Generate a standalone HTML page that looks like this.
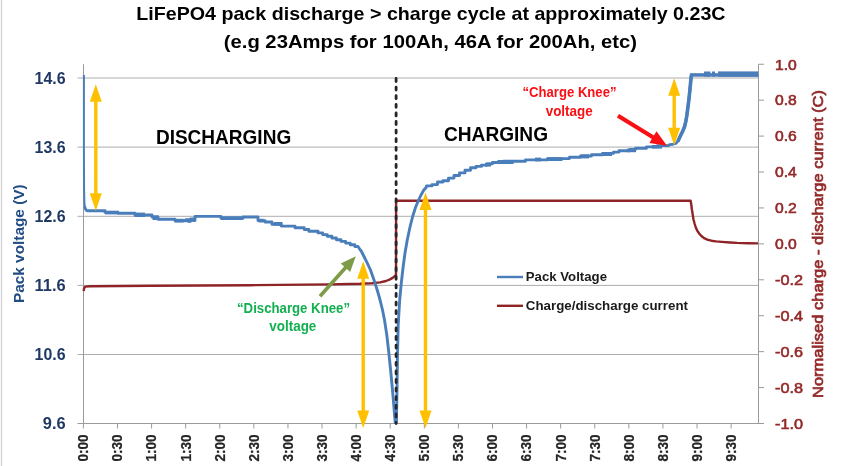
<!DOCTYPE html>
<html lang="en"><head><meta charset="utf-8"><title>LiFePO4 pack discharge &gt; charge cycle</title>
<style>html,body{margin:0;padding:0;background:#fff;}body{width:850px;height:466px;overflow:hidden;font-family:"Liberation Sans",sans-serif;}svg{display:block;}</style>
</head><body>
<svg width="850" height="466" viewBox="0 0 850 466" font-family="Liberation Sans, sans-serif">
<line x1="1.5" y1="0" x2="1.5" y2="466" stroke="#d2d2d2" stroke-width="1.3"/>
<line x1="77.5" y1="78.0" x2="758.5" y2="78.0" stroke="#adadad" stroke-width="1"/>
<line x1="77.5" y1="147.1" x2="758.5" y2="147.1" stroke="#adadad" stroke-width="1"/>
<line x1="77.5" y1="216.3" x2="758.5" y2="216.3" stroke="#adadad" stroke-width="1"/>
<line x1="77.5" y1="285.4" x2="758.5" y2="285.4" stroke="#adadad" stroke-width="1"/>
<line x1="77.5" y1="354.5" x2="758.5" y2="354.5" stroke="#adadad" stroke-width="1"/>
<line x1="83.5" y1="64.25" x2="83.5" y2="423.5" stroke="#9a9a9a" stroke-width="1"/>
<line x1="758.5" y1="64.25" x2="758.5" y2="423.5" stroke="#9a9a9a" stroke-width="1"/>
<line x1="77.5" y1="423.5" x2="764.0" y2="423.5" stroke="#9a9a9a" stroke-width="1"/>
<line x1="758.5" y1="64.25" x2="764.0" y2="64.25" stroke="#9a9a9a" stroke-width="1"/>
<line x1="758.5" y1="100.17" x2="764.0" y2="100.17" stroke="#9a9a9a" stroke-width="1"/>
<line x1="758.5" y1="136.10" x2="764.0" y2="136.10" stroke="#9a9a9a" stroke-width="1"/>
<line x1="758.5" y1="172.03" x2="764.0" y2="172.03" stroke="#9a9a9a" stroke-width="1"/>
<line x1="758.5" y1="207.95" x2="764.0" y2="207.95" stroke="#9a9a9a" stroke-width="1"/>
<line x1="758.5" y1="243.88" x2="764.0" y2="243.88" stroke="#9a9a9a" stroke-width="1"/>
<line x1="758.5" y1="279.80" x2="764.0" y2="279.80" stroke="#9a9a9a" stroke-width="1"/>
<line x1="758.5" y1="315.73" x2="764.0" y2="315.73" stroke="#9a9a9a" stroke-width="1"/>
<line x1="758.5" y1="351.65" x2="764.0" y2="351.65" stroke="#9a9a9a" stroke-width="1"/>
<line x1="758.5" y1="387.57" x2="764.0" y2="387.57" stroke="#9a9a9a" stroke-width="1"/>
<line x1="758.5" y1="423.50" x2="764.0" y2="423.50" stroke="#9a9a9a" stroke-width="1"/>
<line x1="83.40" y1="423.5" x2="83.40" y2="428.5" stroke="#9a9a9a" stroke-width="1"/>
<line x1="117.49" y1="423.5" x2="117.49" y2="428.5" stroke="#9a9a9a" stroke-width="1"/>
<line x1="151.58" y1="423.5" x2="151.58" y2="428.5" stroke="#9a9a9a" stroke-width="1"/>
<line x1="185.67" y1="423.5" x2="185.67" y2="428.5" stroke="#9a9a9a" stroke-width="1"/>
<line x1="219.76" y1="423.5" x2="219.76" y2="428.5" stroke="#9a9a9a" stroke-width="1"/>
<line x1="253.85" y1="423.5" x2="253.85" y2="428.5" stroke="#9a9a9a" stroke-width="1"/>
<line x1="287.94" y1="423.5" x2="287.94" y2="428.5" stroke="#9a9a9a" stroke-width="1"/>
<line x1="322.03" y1="423.5" x2="322.03" y2="428.5" stroke="#9a9a9a" stroke-width="1"/>
<line x1="356.12" y1="423.5" x2="356.12" y2="428.5" stroke="#9a9a9a" stroke-width="1"/>
<line x1="390.21" y1="423.5" x2="390.21" y2="428.5" stroke="#9a9a9a" stroke-width="1"/>
<line x1="424.30" y1="423.5" x2="424.30" y2="428.5" stroke="#9a9a9a" stroke-width="1"/>
<line x1="458.39" y1="423.5" x2="458.39" y2="428.5" stroke="#9a9a9a" stroke-width="1"/>
<line x1="492.48" y1="423.5" x2="492.48" y2="428.5" stroke="#9a9a9a" stroke-width="1"/>
<line x1="526.57" y1="423.5" x2="526.57" y2="428.5" stroke="#9a9a9a" stroke-width="1"/>
<line x1="560.66" y1="423.5" x2="560.66" y2="428.5" stroke="#9a9a9a" stroke-width="1"/>
<line x1="594.75" y1="423.5" x2="594.75" y2="428.5" stroke="#9a9a9a" stroke-width="1"/>
<line x1="628.84" y1="423.5" x2="628.84" y2="428.5" stroke="#9a9a9a" stroke-width="1"/>
<line x1="662.93" y1="423.5" x2="662.93" y2="428.5" stroke="#9a9a9a" stroke-width="1"/>
<line x1="697.02" y1="423.5" x2="697.02" y2="428.5" stroke="#9a9a9a" stroke-width="1"/>
<line x1="731.11" y1="423.5" x2="731.11" y2="428.5" stroke="#9a9a9a" stroke-width="1"/>
<polyline fill="none" stroke="#8f2426" stroke-width="2.4" stroke-linejoin="round" points="83.6,291 84.2,288 85.2,286.6 90,286.3 150,285.8 250,285.2 330,284.4 360,283.8 372,283.2 380,282.4 386,281 390,279.4 393,277.6 395,275.8 396,274.5 396.1,200.7 690.6,200.7 691.2,204 691.9,209.5 693.5,219.5 694.7,224 696,228 697.7,231.4 699.5,234 702,236.6 704.6,238.4 708,239.8 711.5,240.7 716,241.4 721.8,241.9 730,242.5 737,242.9 748,243.2 758,243.4"/>
<polyline fill="none" stroke="#4a7ebb" stroke-width="2" points="83.9,75 83.9,150 84.1,190 84.4,203 85,208"/>
<polyline fill="none" stroke="#4a7ebb" stroke-width="2.9" stroke-linejoin="round" points="84.80,206.50 85.10,208.30 86.30,210.30 88.00,210.80 105.00,210.80 105.00,212.40 118.00,212.40 118.00,213.30 135.00,213.30 135.00,215.00 152.00,215.00 152.00,217.00 158.00,217.00 158.00,219.20 175.00,219.20 175.00,220.80 186.00,220.80 186.00,219.60 188.00,219.60 188.00,221.20 190.50,221.20 190.50,219.00 193.00,219.00 193.00,220.50 195.00,220.50 195.00,216.40 221.00,216.40 221.00,218.30 243.00,218.30 243.00,217.00 258.00,217.00 258.00,220.60 265.00,220.60 265.00,222.00 272.00,222.00 272.00,224.00 272.00,224.40 276.60,224.40 276.60,224.40 281.20,224.40 281.20,226.10 285.80,226.10 285.80,226.10 290.40,226.10 290.40,226.10 295.00,226.10 295.00,227.80 299.60,227.80 299.60,227.80 304.20,227.80 304.20,229.50 308.80,229.50 308.80,231.20 313.40,231.20 313.40,231.20 318.00,231.20 318.00,232.90 322.60,232.90 322.60,234.60 327.20,234.60 327.20,236.30 331.80,236.30 331.80,238.00 336.40,238.00 336.40,239.70 341.00,239.70 341.00,241.40 345.60,241.40 345.60,243.10 350.20,243.10 350.20,244.80 354.80,244.80 354.80,246.50 358.00,246.50 359.50,248.80 361.20,251.00 364.00,256.50 366.80,262.20 370.50,270.00 374.60,281.70 377.50,291.00 380.20,300.50 382.50,310.00 384.50,320.00 386.80,335.00 388.75,352.00 390.60,370.00 392.50,390.00 394.00,408.00 395.20,422.50 396.40,422.50 397.00,390.00 397.50,355.00 398.20,325.00 399.70,300.00 401.30,283.00 403.00,268.00 405.00,253.00 407.30,239.80 410.00,227.00 412.80,216.00 415.50,207.50 418.40,200.50 421.00,195.00 424.00,189.80 426.20,187.40 426.50,185.90 432.00,185.90 432.00,184.60 437.50,184.60 437.50,182.00 443.00,182.00 443.00,180.70 448.50,180.70 448.50,178.10 454.00,178.10 454.00,175.50 459.50,175.50 459.50,172.90 465.00,172.90 465.00,170.30 470.50,170.30 470.50,167.70 476.00,167.70 476.00,166.40 481.50,166.40 481.50,165.10 487.00,165.10 487.00,163.80 492.50,163.80 492.50,162.50 498.00,162.50 498.00,162.50 503.50,162.50 503.50,161.20 509.00,161.20 509.00,161.20 514.50,161.20 514.50,161.20 520.00,161.20 520.00,161.20 525.50,161.20 525.50,159.90 531.00,159.90 531.00,159.90 536.50,159.90 536.50,159.90 542.00,159.90 542.00,159.90 547.50,159.90 547.50,158.60 553.00,158.60 553.00,158.60 558.50,158.60 558.50,158.60 564.00,158.60 564.00,158.60 569.50,158.60 569.50,157.30 575.00,157.30 575.00,157.30 580.50,157.30 580.50,156.00 586.00,156.00 586.00,156.00 591.50,156.00 591.50,154.70 597.00,154.70 597.00,154.70 602.50,154.70 602.50,153.40 608.00,153.40 608.00,153.40 613.50,153.40 613.50,152.10 619.00,152.10 619.00,150.80 624.50,150.80 624.50,150.80 630.00,150.80 630.00,149.50 635.50,149.50 635.50,148.20 641.00,148.20 641.00,148.20 646.50,148.20 646.50,146.90 652.00,146.90 652.00,146.90 657.50,146.90 657.50,145.60 663.00,145.60 663.00,145.60 668.00,145.60 670.00,144.60 673.00,144.20 676.00,143.40 677.80,141.40 679.30,138.30 680.80,135.00 682.80,131.00 684.70,126.20 685.80,121.50 686.80,115.80 687.90,107.50 689.00,98.60 689.90,90.00 690.70,81.50 691.20,76.50 691.60,75.00"/>
<polyline fill="none" stroke="#4a7ebb" stroke-width="3.6" stroke-linejoin="miter" points="677.80,141.40 679.30,138.30 680.80,135.00 682.80,131.00 684.70,126.20 685.80,121.50 686.80,115.80 687.90,107.50 689.00,98.60 689.90,90.00 690.70,81.50 691.20,76.50 691.60,75.00"/>
<rect x="105" y="210.7" width="13.7" height="3.7" fill="#4a7ebb"/>
<rect x="134.5" y="212.6" width="10.5" height="4.4" fill="#4a7ebb"/>
<rect x="152.5" y="215.5" width="6.2" height="4.5" fill="#4a7ebb"/>
<rect x="174.5" y="218.8" width="9.2" height="3.7" fill="#4a7ebb"/>
<rect x="188.7" y="218.8" width="2.5" height="3.7" fill="#4a7ebb"/>
<rect x="221.2" y="216.3" width="21.3" height="3.7" fill="#4a7ebb"/>
<rect x="258.7" y="218.8" width="5.0" height="3.7" fill="#4a7ebb"/>
<rect x="273.7" y="222" width="8.8" height="3.6" fill="#4a7ebb"/>
<rect x="485" y="163" width="6.0" height="3.6" fill="#4a7ebb"/>
<rect x="497.5" y="160" width="16.2" height="4.0" fill="#4a7ebb"/>
<rect x="535" y="157.6" width="6.0" height="3.8" fill="#4a7ebb"/>
<rect x="547.5" y="157.2" width="15.0" height="3.8" fill="#4a7ebb"/>
<rect x="581" y="154.4" width="8.0" height="4.0" fill="#4a7ebb"/>
<rect x="602.5" y="152" width="9.5" height="4.0" fill="#4a7ebb"/>
<rect x="627" y="148.6" width="9.0" height="3.6" fill="#4a7ebb"/>
<rect x="652" y="145" width="10.0" height="3.6" fill="#4a7ebb"/>
<rect x="689.9" y="73.2" width="68.3" height="3.5" fill="#4a7ebb"/>
<rect x="704" y="71.5" width="6.5" height="5.2" fill="#4a7ebb"/>
<rect x="712" y="71.5" width="3" height="5.2" fill="#4a7ebb"/>
<rect x="718" y="71.4" width="40.2" height="5.4" fill="#4a7ebb"/>
<line x1="396.1" y1="78.5" x2="396.1" y2="423.5" stroke="#262626" stroke-width="2.8" stroke-dasharray="3 5.6" stroke-linecap="round"/>
<line x1="95.8" y1="100.7" x2="95.8" y2="194.3" stroke="#ffc000" stroke-width="3.4"/>
<polygon fill="#ffc000" points="95.8,84.2 89.8,101.7 101.8,101.7"/>
<polygon fill="#ffc000" points="95.8,210.8 89.8,193.3 101.8,193.3"/>
<line x1="363.2" y1="277.7" x2="363.2" y2="411.5" stroke="#ffc000" stroke-width="3.4"/>
<polygon fill="#ffc000" points="363.2,261.2 357.2,278.7 369.2,278.7"/>
<polygon fill="#ffc000" points="363.2,428 357.2,410.5 369.2,410.5"/>
<line x1="425.5" y1="209.0" x2="425.5" y2="411.5" stroke="#ffc000" stroke-width="3.4"/>
<polygon fill="#ffc000" points="425.5,192.5 419.5,210.0 431.5,210.0"/>
<polygon fill="#ffc000" points="425.5,428 419.5,410.5 431.5,410.5"/>
<line x1="674.2" y1="94.7" x2="674.2" y2="128.7" stroke="#ffc000" stroke-width="3.4"/>
<polygon fill="#ffc000" points="674.2,78.2 668.2,95.7 680.2,95.7"/>
<polygon fill="#ffc000" points="674.2,145.2 668.2,127.69999999999999 680.2,127.69999999999999"/>
<line x1="320.00" y1="296.30" x2="346.14" y2="267.02" stroke="#7e9b48" stroke-width="3.6"/>
<polygon fill="#7e9b48" points="355.80,256.20 350.18,271.96 340.78,263.57"/>
<line x1="618.00" y1="115.70" x2="653.79" y2="137.69" stroke="#fa0f14" stroke-width="4.2"/>
<polygon fill="#fa0f14" points="667.00,145.80 649.38,142.96 656.50,131.37"/>
<text x="430.9" y="19.5" font-size="18.4" font-weight="bold" fill="#000" text-anchor="middle" textLength="589.3" lengthAdjust="spacingAndGlyphs">LiFePO4 pack discharge &gt; charge cycle at approximately 0.23C</text>
<text x="430.4" y="47.5" font-size="18.4" font-weight="bold" fill="#000" text-anchor="middle" textLength="413.3" lengthAdjust="spacingAndGlyphs">(e.g 23Amps for 100Ah, 46A for 200Ah, etc)</text>
<text x="155.9" y="143.5" font-size="20" font-weight="bold" fill="#000" text-anchor="start" textLength="135.3" lengthAdjust="spacingAndGlyphs">DISCHARGING</text>
<text x="444.0" y="140.9" font-size="20" font-weight="bold" fill="#000" text-anchor="start" textLength="104" lengthAdjust="spacingAndGlyphs">CHARGING</text>
<text x="293.5" y="313.3" font-size="14" font-weight="bold" fill="#12b050" text-anchor="middle" textLength="113" lengthAdjust="spacingAndGlyphs">“Discharge Knee”</text>
<text x="292.8" y="331.3" font-size="14" font-weight="bold" fill="#12b050" text-anchor="middle" textLength="47" lengthAdjust="spacingAndGlyphs">voltage</text>
<text x="569.5" y="97.2" font-size="14" font-weight="bold" fill="#fa0f14" text-anchor="middle" textLength="94" lengthAdjust="spacingAndGlyphs">“Charge Knee”</text>
<text x="569.2" y="115.6" font-size="14" font-weight="bold" fill="#fa0f14" text-anchor="middle" textLength="47" lengthAdjust="spacingAndGlyphs">voltage</text>
<line x1="497" y1="277" x2="523" y2="277" stroke="#4a7ebb" stroke-width="2.4"/>
<line x1="497" y1="305.8" x2="523" y2="305.8" stroke="#8f2426" stroke-width="2.4"/>
<text x="525.8" y="281.3" font-size="13.6" font-weight="bold" fill="#1a1a1a" text-anchor="start" textLength="81.2" lengthAdjust="spacingAndGlyphs">Pack Voltage</text>
<text x="525.8" y="310" font-size="13.6" font-weight="bold" fill="#1a1a1a" text-anchor="start" textLength="162.2" lengthAdjust="spacingAndGlyphs">Charge/discharge current</text>
<text x="65.6" y="83.7" font-size="15.8" font-weight="bold" fill="#1f3864" text-anchor="end" textLength="31" lengthAdjust="spacingAndGlyphs">14.6</text>
<text x="65.6" y="152.79999999999998" font-size="15.8" font-weight="bold" fill="#1f3864" text-anchor="end" textLength="31" lengthAdjust="spacingAndGlyphs">13.6</text>
<text x="65.6" y="222.0" font-size="15.8" font-weight="bold" fill="#1f3864" text-anchor="end" textLength="31" lengthAdjust="spacingAndGlyphs">12.6</text>
<text x="65.6" y="291.09999999999997" font-size="15.8" font-weight="bold" fill="#1f3864" text-anchor="end" textLength="31" lengthAdjust="spacingAndGlyphs">11.6</text>
<text x="65.6" y="360.2" font-size="15.8" font-weight="bold" fill="#1f3864" text-anchor="end" textLength="31" lengthAdjust="spacingAndGlyphs">10.6</text>
<text x="65.6" y="429.2" font-size="15.8" font-weight="bold" fill="#1f3864" text-anchor="end" textLength="22.8" lengthAdjust="spacingAndGlyphs">9.6</text>
<text x="775" y="69.55" font-size="15.3" font-weight="normal" fill="#942a2a" text-anchor="start" textLength="21.8" lengthAdjust="spacingAndGlyphs" stroke="#942a2a" stroke-width="0.6">1.0</text>
<text x="775" y="105.475" font-size="15.3" font-weight="normal" fill="#942a2a" text-anchor="start" textLength="21.8" lengthAdjust="spacingAndGlyphs" stroke="#942a2a" stroke-width="0.6">0.8</text>
<text x="775" y="141.4" font-size="15.3" font-weight="normal" fill="#942a2a" text-anchor="start" textLength="21.8" lengthAdjust="spacingAndGlyphs" stroke="#942a2a" stroke-width="0.6">0.6</text>
<text x="775" y="177.32500000000002" font-size="15.3" font-weight="normal" fill="#942a2a" text-anchor="start" textLength="21.8" lengthAdjust="spacingAndGlyphs" stroke="#942a2a" stroke-width="0.6">0.4</text>
<text x="775" y="213.25" font-size="15.3" font-weight="normal" fill="#942a2a" text-anchor="start" textLength="21.8" lengthAdjust="spacingAndGlyphs" stroke="#942a2a" stroke-width="0.6">0.2</text>
<text x="775" y="249.175" font-size="15.3" font-weight="normal" fill="#942a2a" text-anchor="start" textLength="21.8" lengthAdjust="spacingAndGlyphs" stroke="#942a2a" stroke-width="0.6">0.0</text>
<text x="775" y="285.1" font-size="15.3" font-weight="normal" fill="#942a2a" text-anchor="start" textLength="28" lengthAdjust="spacingAndGlyphs" stroke="#942a2a" stroke-width="0.6">-0.2</text>
<text x="775" y="321.02500000000003" font-size="15.3" font-weight="normal" fill="#942a2a" text-anchor="start" textLength="28" lengthAdjust="spacingAndGlyphs" stroke="#942a2a" stroke-width="0.6">-0.4</text>
<text x="775" y="356.95" font-size="15.3" font-weight="normal" fill="#942a2a" text-anchor="start" textLength="28" lengthAdjust="spacingAndGlyphs" stroke="#942a2a" stroke-width="0.6">-0.6</text>
<text x="775" y="392.875" font-size="15.3" font-weight="normal" fill="#942a2a" text-anchor="start" textLength="28" lengthAdjust="spacingAndGlyphs" stroke="#942a2a" stroke-width="0.6">-0.8</text>
<text x="775" y="428.8" font-size="15.3" font-weight="normal" fill="#942a2a" text-anchor="start" textLength="28" lengthAdjust="spacingAndGlyphs" stroke="#942a2a" stroke-width="0.6">-1.0</text>
<g transform="translate(24.4,243.7) rotate(-90)">
<text x="0" y="0" font-size="15.4" font-weight="bold" fill="#224d84" text-anchor="middle" textLength="118.6" lengthAdjust="spacingAndGlyphs">Pack voltage (V)</text>
</g>
<g transform="translate(823,244) rotate(-90)">
<text x="0" y="0" font-size="14.8" font-weight="normal" fill="#942a2a" text-anchor="middle" textLength="308" lengthAdjust="spacingAndGlyphs" stroke="#942a2a" stroke-width="0.7">Normalised charge - discharge current (C)</text>
</g>
<g transform="translate(88.30,461.4) rotate(-90)">
<text x="0" y="0" font-size="15.2" font-weight="bold" fill="#262626" text-anchor="start" textLength="27" lengthAdjust="spacingAndGlyphs" stroke="#262626" stroke-width="0.25">0:00</text>
</g>
<g transform="translate(122.39,461.4) rotate(-90)">
<text x="0" y="0" font-size="15.2" font-weight="bold" fill="#262626" text-anchor="start" textLength="27" lengthAdjust="spacingAndGlyphs" stroke="#262626" stroke-width="0.25">0:30</text>
</g>
<g transform="translate(156.48,461.4) rotate(-90)">
<text x="0" y="0" font-size="15.2" font-weight="bold" fill="#262626" text-anchor="start" textLength="27" lengthAdjust="spacingAndGlyphs" stroke="#262626" stroke-width="0.25">1:00</text>
</g>
<g transform="translate(190.57,461.4) rotate(-90)">
<text x="0" y="0" font-size="15.2" font-weight="bold" fill="#262626" text-anchor="start" textLength="27" lengthAdjust="spacingAndGlyphs" stroke="#262626" stroke-width="0.25">1:30</text>
</g>
<g transform="translate(224.66,461.4) rotate(-90)">
<text x="0" y="0" font-size="15.2" font-weight="bold" fill="#262626" text-anchor="start" textLength="27" lengthAdjust="spacingAndGlyphs" stroke="#262626" stroke-width="0.25">2:00</text>
</g>
<g transform="translate(258.75,461.4) rotate(-90)">
<text x="0" y="0" font-size="15.2" font-weight="bold" fill="#262626" text-anchor="start" textLength="27" lengthAdjust="spacingAndGlyphs" stroke="#262626" stroke-width="0.25">2:30</text>
</g>
<g transform="translate(292.84,461.4) rotate(-90)">
<text x="0" y="0" font-size="15.2" font-weight="bold" fill="#262626" text-anchor="start" textLength="27" lengthAdjust="spacingAndGlyphs" stroke="#262626" stroke-width="0.25">3:00</text>
</g>
<g transform="translate(326.93,461.4) rotate(-90)">
<text x="0" y="0" font-size="15.2" font-weight="bold" fill="#262626" text-anchor="start" textLength="27" lengthAdjust="spacingAndGlyphs" stroke="#262626" stroke-width="0.25">3:30</text>
</g>
<g transform="translate(361.02,461.4) rotate(-90)">
<text x="0" y="0" font-size="15.2" font-weight="bold" fill="#262626" text-anchor="start" textLength="27" lengthAdjust="spacingAndGlyphs" stroke="#262626" stroke-width="0.25">4:00</text>
</g>
<g transform="translate(395.11,461.4) rotate(-90)">
<text x="0" y="0" font-size="15.2" font-weight="bold" fill="#262626" text-anchor="start" textLength="27" lengthAdjust="spacingAndGlyphs" stroke="#262626" stroke-width="0.25">4:30</text>
</g>
<g transform="translate(429.20,461.4) rotate(-90)">
<text x="0" y="0" font-size="15.2" font-weight="bold" fill="#262626" text-anchor="start" textLength="27" lengthAdjust="spacingAndGlyphs" stroke="#262626" stroke-width="0.25">5:00</text>
</g>
<g transform="translate(463.29,461.4) rotate(-90)">
<text x="0" y="0" font-size="15.2" font-weight="bold" fill="#262626" text-anchor="start" textLength="27" lengthAdjust="spacingAndGlyphs" stroke="#262626" stroke-width="0.25">5:30</text>
</g>
<g transform="translate(497.38,461.4) rotate(-90)">
<text x="0" y="0" font-size="15.2" font-weight="bold" fill="#262626" text-anchor="start" textLength="27" lengthAdjust="spacingAndGlyphs" stroke="#262626" stroke-width="0.25">6:00</text>
</g>
<g transform="translate(531.47,461.4) rotate(-90)">
<text x="0" y="0" font-size="15.2" font-weight="bold" fill="#262626" text-anchor="start" textLength="27" lengthAdjust="spacingAndGlyphs" stroke="#262626" stroke-width="0.25">6:30</text>
</g>
<g transform="translate(565.56,461.4) rotate(-90)">
<text x="0" y="0" font-size="15.2" font-weight="bold" fill="#262626" text-anchor="start" textLength="27" lengthAdjust="spacingAndGlyphs" stroke="#262626" stroke-width="0.25">7:00</text>
</g>
<g transform="translate(599.65,461.4) rotate(-90)">
<text x="0" y="0" font-size="15.2" font-weight="bold" fill="#262626" text-anchor="start" textLength="27" lengthAdjust="spacingAndGlyphs" stroke="#262626" stroke-width="0.25">7:30</text>
</g>
<g transform="translate(633.74,461.4) rotate(-90)">
<text x="0" y="0" font-size="15.2" font-weight="bold" fill="#262626" text-anchor="start" textLength="27" lengthAdjust="spacingAndGlyphs" stroke="#262626" stroke-width="0.25">8:00</text>
</g>
<g transform="translate(667.83,461.4) rotate(-90)">
<text x="0" y="0" font-size="15.2" font-weight="bold" fill="#262626" text-anchor="start" textLength="27" lengthAdjust="spacingAndGlyphs" stroke="#262626" stroke-width="0.25">8:30</text>
</g>
<g transform="translate(701.92,461.4) rotate(-90)">
<text x="0" y="0" font-size="15.2" font-weight="bold" fill="#262626" text-anchor="start" textLength="27" lengthAdjust="spacingAndGlyphs" stroke="#262626" stroke-width="0.25">9:00</text>
</g>
<g transform="translate(736.01,461.4) rotate(-90)">
<text x="0" y="0" font-size="15.2" font-weight="bold" fill="#262626" text-anchor="start" textLength="27" lengthAdjust="spacingAndGlyphs" stroke="#262626" stroke-width="0.25">9:30</text>
</g>
</svg>
</body></html>
